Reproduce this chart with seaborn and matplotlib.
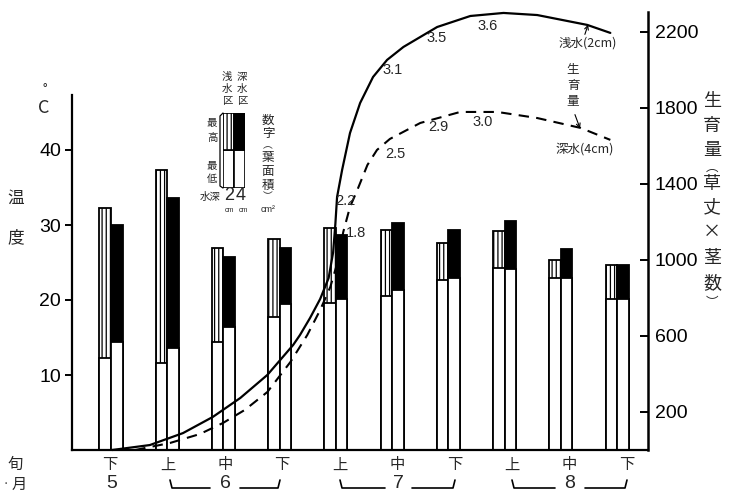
import matplotlib
matplotlib.use("Agg")
import matplotlib.pyplot as plt
from matplotlib.patches import Rectangle, FancyArrowPatch
from matplotlib.lines import Line2D
import numpy as np
import pandas as pd
import seaborn as sns

# ---------------- data ----------------
PERIODS = ["5月下旬", "6月上旬", "6月中旬", "6月下旬", "7月上旬",
           "7月中旬", "7月下旬", "8月上旬", "8月中旬", "8月下旬"]
DEKAD_LABELS = ["下", "上", "中", "下", "上", "中", "下", "上", "中", "下"]
MONTH_LABELS = ["5", "6", "7", "8"]

# water temperature (°C): shallow (2 cm) and deep (4 cm) plots
SHALLOW_MAX = [32.2, 37.3, 27.0, 28.1, 29.6, 29.3, 27.6, 29.2, 25.4, 24.7]
SHALLOW_MIN = [12.3, 11.6, 14.4, 17.8, 19.6, 20.5, 22.7, 24.3, 23.0, 20.1]
DEEP_MAX = [30.0, 33.6, 25.7, 27.0, 28.7, 30.3, 29.3, 30.6, 26.8, 24.7]
DEEP_MIN = [14.4, 13.6, 16.4, 19.5, 20.2, 21.4, 22.9, 24.2, 23.0, 20.1]

# growth amount (plant height x tiller number)
SHALLOW_GROWTH_T = [0.02, 0.69, 1.28, 1.81, 2.30, 2.78, 3.24, 3.36, 3.54, 3.72, 3.87,
                    3.95, 3.99, 4.02, 4.11, 4.25, 4.43, 4.66, 4.91, 5.20, 5.80, 6.39,
                    6.98, 7.58, 8.47, 8.88]
SHALLOW_GROWTH = [0, 26, 89, 174, 274, 395, 553, 605, 695, 795, 905,
                  1040, 1190, 1331, 1474, 1668, 1826, 1963, 2053, 2121, 2226, 2284,
                  2300, 2289, 2237, 2195]
DEEP_GROWTH_T = [0.43, 1.05, 1.58, 1.99, 2.38, 2.78, 3.19, 3.49, 3.72, 3.90, 4.04,
                 4.13, 4.25, 4.38, 4.56, 4.73, 4.96, 5.50, 6.21, 6.87, 7.58, 8.35, 8.88]
DEEP_GROWTH = [0, 37, 84, 142, 211, 305, 463, 605, 737, 858, 1000,
               1147, 1279, 1368, 1500, 1579, 1637, 1721, 1779, 1779, 1747, 1695, 1632]

# leaf area (cm2) written along the curves
SHALLOW_LEAF = ["2.2", "3.1", "3.5", "3.6"]
DEEP_LEAF = ["1.8", "2.5", "2.9", "3.0"]

# ---------------- style ----------------
sns.set_theme(style="white")
plt.rcParams["font.family"] = ["Liberation Sans", "Noto Sans CJK JP", "DejaVu Sans"]
plt.rcParams["hatch.linewidth"] = 0.9
plt.rcParams["axes.edgecolor"] = "black"

W, H = 729, 491
def fx(x):
    return x / W
def fy(y):
    return 1 - y / H

fig = plt.figure(figsize=(W / 100, H / 100), dpi=100)
ax = fig.add_axes([fx(72), fy(450), (648 - 72) / W, (450 - 12) / H])

n = len(PERIODS)
df = pd.DataFrame({
    "idx": list(range(n)) * 2,
    "plot": ["浅水区"] * n + ["深水区"] * n,
    "tmax": SHALLOW_MAX + DEEP_MAX,
    "tmin": SHALLOW_MIN + DEEP_MIN,
})
order = ["浅水区", "深水区"]
sns.barplot(data=df, x="idx", y="tmax", hue="plot", hue_order=order,
            palette={"浅水区": "white", "深水区": "black"}, native_scale=True,
            width=0.41, gap=0, saturation=1, edgecolor="black", linewidth=1.3,
            errorbar=None, legend=False, ax=ax)
for p in ax.containers[0]:
    p.set_hatch("||||")
sns.barplot(data=df, x="idx", y="tmin", hue="plot", hue_order=order,
            palette={"浅水区": "white", "深水区": "white"}, native_scale=True,
            width=0.41, gap=0, saturation=1, edgecolor="black", linewidth=1.3,
            errorbar=None, legend=False, ax=ax)

ax.set_xlim(-0.694, 9.55)
ax.set_ylim(0, 58.4)
ax.set_xticks([])
ax.set_yticks([10, 20, 30, 40])
ax.set_xlabel("")
ax.set_ylabel("")
ax.tick_params(axis="y", direction="out", length=5, width=1.4, labelsize=14, pad=3, colors="black")
for s in ["top", "right"]:
    ax.spines[s].set_visible(False)
ax.spines["left"].set_bounds(0, 47.3)
ax.spines["left"].set_linewidth(1.6)
ax.spines["bottom"].set_linewidth(1.6)

ax2 = ax.twinx()
sns.lineplot(x=SHALLOW_GROWTH_T, y=SHALLOW_GROWTH, ax=ax2, color="black",
             linewidth=1.6, estimator=None, sort=False)
sns.lineplot(x=DEEP_GROWTH_T, y=DEEP_GROWTH, ax=ax2, color="black",
             linewidth=1.5, estimator=None, sort=False)
ax2.lines[1].set_dashes([5, 3.5])
for ln in ax2.lines:
    ln.set_clip_on(False)
    ln.set_solid_joinstyle("round")
ax2.set_xlim(-0.694, 9.55)
ax2.set_ylim(0, 2305)
ax2.set_yticks([200, 600, 1000, 1400, 1800, 2200])
ax2.set_xlabel("")
ax2.set_ylabel("")
ax2.tick_params(axis="y", direction="in", length=6, width=1.4, labelsize=14, pad=5, colors="black")
for s in ["top", "left", "bottom"]:
    ax2.spines[s].set_visible(False)
ax2.spines["right"].set_bounds(0, 2305)
ax2.spines["right"].set_linewidth(1.8)

JP = ["Noto Sans CJK JP", "DejaVu Sans"]
def jtext(x, y, s, size, **kw):
    fig.text(fx(x), fy(y), s, fontsize=size, family=JP, ha="center", va="center", **kw)

def vtext(x, ys, chars, sizes):
    if not isinstance(sizes, (list, tuple)):
        sizes = [sizes] * len(ys)
    for ch, y, sz in zip(chars, ys, sizes):
        jtext(x, y, ch, sz)

# axis titles
jtext(44, 108, "C", 13)
jtext(45, 90, "°", 9)
vtext(16, [198, 238], "温度", 12)
vtext(712, [101, 126, 150, 167, 184, 207, 232, 258, 283, 303],
      ["生", "育", "量", "︵", "草", "丈", "×", "茎", "数", "︶"],
      [13, 13, 13, 9, 13, 13, 13, 13, 13, 9])

# dekad / month labels
for i, lab in enumerate(DEKAD_LABELS):
    jtext(110 + 57.4 * i, 465, lab, 11)
jtext(15, 464, "旬", 11)
jtext(19, 484, "月", 11)
jtext(6, 484, "·", 8)
month_x = [112, 225, 398, 570]
for lab, x in zip(MONTH_LABELS, month_x):
    fig.text(fx(x), fy(483), lab, fontsize=14, ha="center", va="center")
for x0, x1, x2, x3 in [(170, 210, 240, 280), (340, 385, 412, 455), (512, 555, 585, 627)]:
    fig.add_artist(Line2D([fx(x0), fx(x0 + 2), fx(x1)], [fy(480), fy(488), fy(488)],
                          color="black", lw=1.2))
    fig.add_artist(Line2D([fx(x2), fx(x3 - 2), fx(x3)], [fy(488), fy(488), fy(480)],
                          color="black", lw=1.2))

# leaf-area numbers on the curves
for s, (x, y) in zip(SHALLOW_LEAF, [(345, 201), (393, 70), (437, 38), (488, 26)]):
    fig.text(fx(x), fy(y), s, fontsize=10.5, ha="center", va="center")
for s, (x, y) in zip(DEEP_LEAF, [(356, 233), (395, 154), (438, 127), (483, 122)]):
    fig.text(fx(x), fy(y), s, fontsize=10.5, ha="center", va="center")

# curve annotations
jtext(588, 43, "浅水(2cm)", 9)
jtext(585, 149, "深水(4cm)", 9)
vtext(573, [70, 86, 102], "生育量", 9)
fig.add_artist(FancyArrowPatch(
    (fx(584), fy(37)), (fx(589), fy(22)), transform=fig.transFigure,
    arrowstyle="->", mutation_scale=7, lw=0.8, color="black"))
fig.add_artist(FancyArrowPatch(
    (fx(574), fy(112)), (fx(581), fy(131)), transform=fig.transFigure,
    arrowstyle="->", mutation_scale=7, lw=0.8, color="black"))

# inset legend
lax = fig.add_axes([fx(223), fy(188), 22 / W, 75 / H])
lax.set_xlim(0, 2)
lax.set_ylim(0, 1)
lax.axis("off")
lax.add_patch(Rectangle((0, 0), 1, 0.51, fc="white", ec="black", lw=1.2))
lax.add_patch(Rectangle((0, 0.51), 1, 0.49, fc="white", ec="black", lw=1.2, hatch="||||"))
lax.add_patch(Rectangle((1, 0), 1, 0.51, fc="white", ec="black", lw=1.2))
lax.add_patch(Rectangle((1, 0.51), 1, 0.49, fc="black", ec="black", lw=1.2))
fig.add_artist(Line2D([fx(223), fx(220), fx(220), fx(223)],
                      [fy(113), fy(116), fy(186), fy(188)], color="black", lw=0.9))
vtext(227, [77, 89, 101], "浅水区", 7.5)
vtext(242, [77, 89, 101], "深水区", 7.5)
vtext(212, [123, 138], "最高", 7.5)
vtext(212, [166, 179], "最低", 7.5)
jtext(210, 197, "水深", 7.5)
fig.text(fx(229), fy(196), "2", fontsize=13, ha="center", va="center")
fig.text(fx(241), fy(196), "4", fontsize=13, ha="center", va="center")
fig.text(fx(229), fy(211), "cm", fontsize=5, ha="center", va="center")
fig.text(fx(243), fy(211), "cm", fontsize=5, ha="center", va="center")
vtext(268, [120, 134, 145, 157, 171, 185, 196],
      ["数", "字", "︵", "葉", "面", "積", "︶"], [9, 9, 7, 9, 9, 9, 7])
fig.text(fx(268), fy(210), "cm²", fontsize=6.5, ha="center", va="center")

fig.savefig("out.png", dpi=100)
